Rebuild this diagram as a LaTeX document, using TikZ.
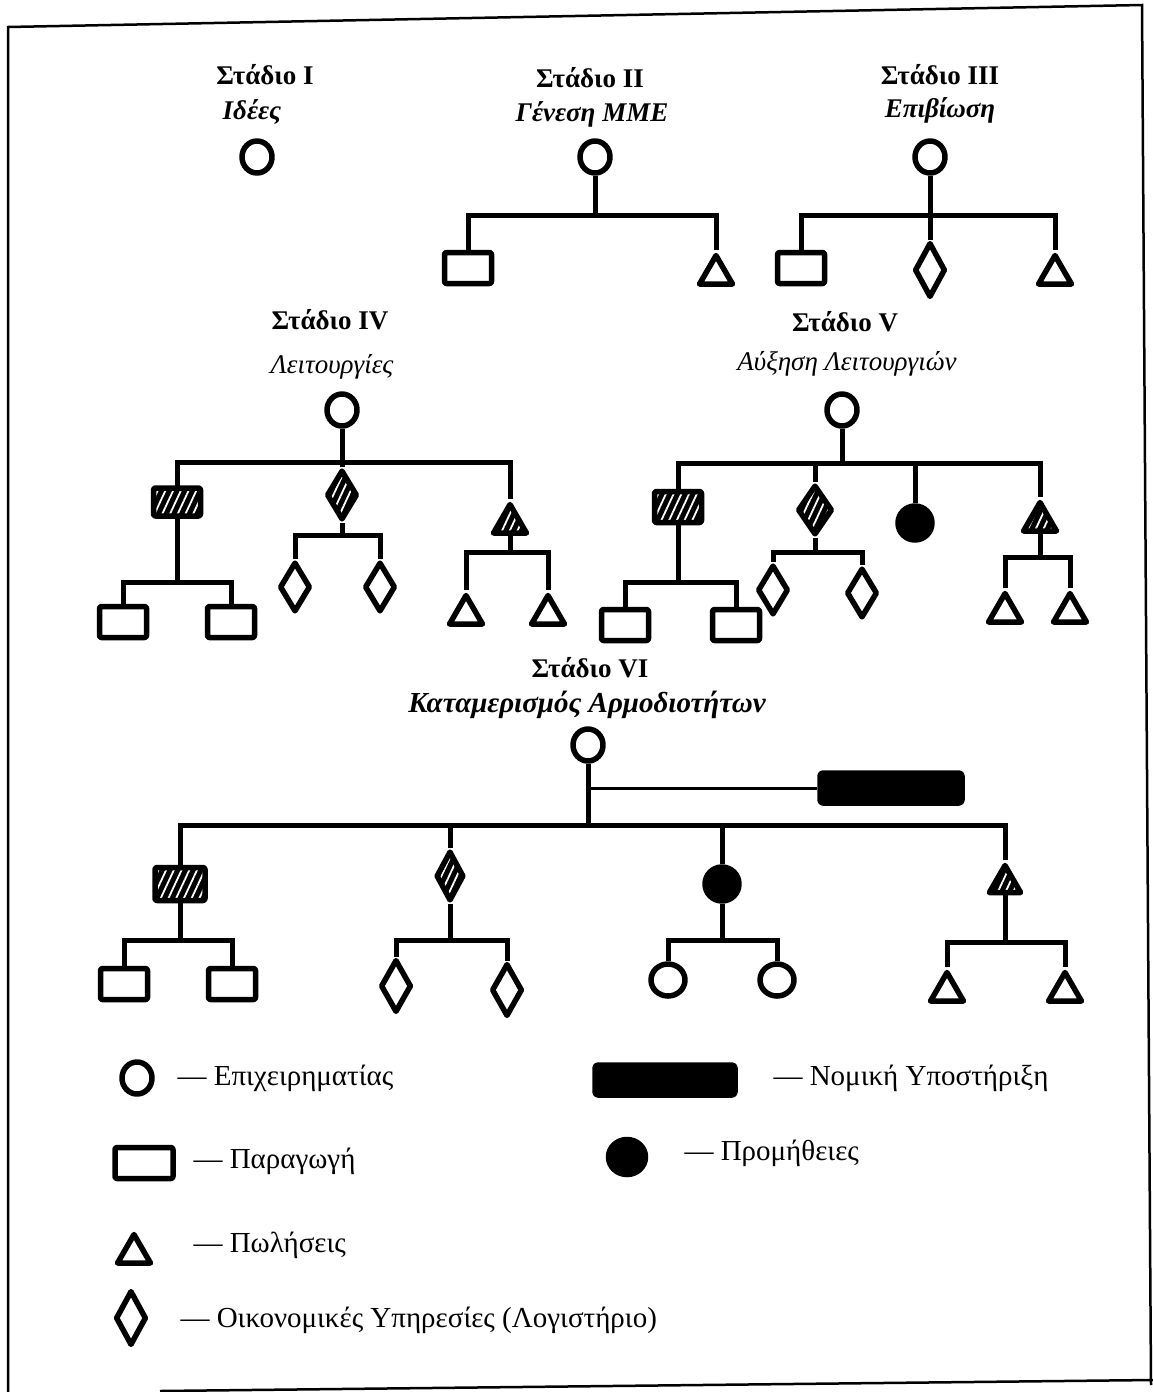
\documentclass[tikz,border=0pt]{standalone}
\usepackage{fontspec}
\setmainfont{Liberation Serif}
\usetikzlibrary{shapes.geometric,patterns.meta}
\tikzset{
  wire/.style={line width=5pt},
  thin wire/.style={line width=3pt},
  frame/.style={line width=2.5pt},
  shp/.style={draw,line width=5.5pt,line join=round,inner sep=0pt},
  boss/.style={shp,ellipse,minimum width=30pt,minimum height=32pt},
  prod/.style={shp,rectangle,rounded corners=2pt,minimum width=47pt,minimum height=31pt},
  fin/.style={shp,diamond,minimum width=31pt,minimum height=50pt},
  sales/.style={shp,regular polygon,regular polygon sides=3,minimum size=38pt,anchor=north},
  supply/.style={shp,ellipse,fill=black,minimum width=34pt,minimum height=34pt},
  legal/.style={shp,rectangle,fill=black,rounded corners=3pt,minimum width=142pt,minimum height=30pt},
  hatch/.style={preaction={fill=black},pattern={Lines[angle=65,distance=7pt,line width=1.8pt]},pattern color=white},
  hd/.style={font=\fontsize{27}{30}\selectfont\bfseries},
  sub/.style={font=\fontsize{27}{30}\selectfont\bfseries\itshape},
  subl/.style={font=\fontsize{27}{30}\selectfont\itshape},
  key/.style={font=\fontsize{29}{32}\selectfont,anchor=west},
}
\begin{document}
\begin{tikzpicture}[x=1pt,y=-1pt]
  \useasboundingbox (0,0) rectangle (1153,1392);
  % frame
  \draw[frame] (8,1392) -- (8,27) -- (1142,5) -- (1151,1385);
  \draw[frame] (160,1391) -- (1153,1380);

  % Stage I
  \node[hd] (t1) at (265,75) {Στάδιο I};
  \node[sub] (n1) at (252,112) {Ιδέες};
  \node[boss] (e1) at (257,157) {};

  % Stage II
  \node[hd] (t2) at (590,78) {Στάδιο II};
  \node[sub] (n2) at (592,114) {Γένεση ΜΜΕ};
  \node[boss] (e2) at (595,157) {};
  \node[prod] (p2) at (468,268) {};
  \node[sales] (s2) at (716,250) {};
  \coordinate (j2) at (595,215);
  \draw[wire] (e2) -- (j2);
  \draw[wire] (p2.north) |- (j2) -| (s2.north);

  % Stage III
  \node[hd] (t3) at (940,75) {Στάδιο III};
  \node[sub] (n3) at (940,110) {Επιβίωση};
  \node[boss] (e3) at (930,157) {};
  \node[prod] (p3) at (801,268) {};
  \node[fin,minimum height=55pt] (f3) at (930,270) {};
  \node[sales] (s3) at (1055,250) {};
  \coordinate (j3) at (930,215);
  \draw[wire] (e3) -- (f3.north);
  \draw[wire] (p3.north) |- (j3) -| (s3.north);

  % Stage IV
  \node[hd] (t4) at (330,320) {Στάδιο IV};
  \node[subl] (n4) at (332,367) {Λειτουργίες};
  \node[boss] (e4) at (342,410) {};
  \node[prod,hatch,minimum height=28pt] (ph4) at (177,502) {};
  \node[fin,hatch] (fh4) at (342,495) {};
  \node[sales,hatch] (sh4) at (510,499) {};
  \node[prod] (p4a) at (123,622) {};
  \node[prod] (p4b) at (231,622) {};
  \node[fin] (f4a) at (295,587) {};
  \node[fin] (f4b) at (380,587) {};
  \node[sales] (s4a) at (466,590) {};
  \node[sales] (s4b) at (548,590) {};
  \coordinate (j4) at (342,462);
  \coordinate (k4p) at (177,582);
  \coordinate (k4f) at (342,535);
  \coordinate (k4s) at (510,552);
  \draw[wire] (e4) -- (fh4.north);
  \draw[wire] (ph4.north) |- (j4) -| (sh4.north);
  \draw[wire] (ph4) -- (k4p); \draw[wire] (p4a.north) |- (k4p) -| (p4b.north);
  \draw[wire] (fh4) -- (k4f); \draw[wire] (f4a.north) |- (k4f) -| (f4b.north);
  \draw[wire] (sh4) -- (k4s); \draw[wire] (s4a.north) |- (k4s) -| (s4b.north);

  % Stage V
  \node[hd] (t5) at (845,322) {Στάδιο V};
  \node[subl] (n5) at (847,364) {Αύξηση Λειτουργιών};
  \node[boss] (e5) at (842,410) {};
  \node[prod,hatch] (ph5) at (678,507) {};
  \node[fin,hatch,minimum width=35pt] (fh5) at (815,510) {};
  \node[supply] (sup5) at (915,523) {};
  \node[sales,hatch] (sh5) at (1040,497) {};
  \node[prod] (p5a) at (625,625) {};
  \node[prod] (p5b) at (736,625) {};
  \node[fin] (f5a) at (773,590) {};
  \node[fin] (f5b) at (862,593) {};
  \node[sales] (s5a) at (1005,588) {};
  \node[sales] (s5b) at (1070,588) {};
  \coordinate (j5) at (842,463);
  \coordinate (k5p) at (678,582);
  \coordinate (k5f) at (815,552);
  \coordinate (k5s) at (1040,557);
  \draw[wire] (e5) -- (j5);
  \draw[wire] (ph5.north) |- (j5) -| (sh5.north);
  \draw[wire] (fh5.north) -- (fh5.north |- j5);
  \draw[wire] (sup5.north) -- (sup5.north |- j5);
  \draw[wire] (ph5) -- (k5p); \draw[wire] (p5a.north) |- (k5p) -| (p5b.north);
  \draw[wire] (fh5) -- (k5f); \draw[wire] (f5a.north) |- (k5f) -| (f5b.north);
  \draw[wire] (sh5) -- (k5s); \draw[wire] (s5a.north) |- (k5s) -| (s5b.north);

  % Stage VI
  \node[hd] (t6) at (590,668) {Στάδιο VI};
  \node[sub,font=\fontsize{29}{32}\selectfont\bfseries\itshape] (n6) at (587,705) {Καταμερισμός Αρμοδιοτήτων};
  \node[boss] (e6) at (588,745) {};
  \node[legal] (lg6) at (891,788) {};
  \node[prod,hatch,minimum width=50pt,minimum height=33pt] (ph6) at (180,884) {};
  \node[fin,hatch,minimum width=28pt] (fh6) at (450,876) {};
  \node[supply] (sup6) at (722,884) {};
  \node[sales,hatch,minimum size=36pt] (sh6) at (1005,860) {};
  \node[prod] (p6a) at (124,984) {};
  \node[prod] (p6b) at (232,984) {};
  \node[fin,minimum height=53pt] (f6a) at (396,986) {};
  \node[fin,minimum height=53pt] (f6b) at (507,990) {};
  \node[boss,minimum width=34pt] (c6a) at (668,980) {};
  \node[boss,minimum width=34pt] (c6b) at (777,980) {};
  \node[sales] (s6a) at (947,967) {};
  \node[sales] (s6b) at (1065,967) {};
  \coordinate (l6) at (588,788);
  \coordinate (j6) at (588,825);
  \coordinate (k6p) at (180,940);
  \coordinate (k6f) at (450,940);
  \coordinate (k6c) at (722,940);
  \coordinate (k6s) at (1005,942);
  \draw[wire] (e6) -- (j6);
  \draw[thin wire] (l6) -- (lg6);
  \draw[wire] (ph6.north) |- (j6) -| (sh6.north);
  \draw[wire] (fh6.north) -- (fh6.north |- j6);
  \draw[wire] (sup6.north) -- (sup6.north |- j6);
  \draw[wire] (ph6) -- (k6p); \draw[wire] (p6a.north) |- (k6p) -| (p6b.north);
  \draw[wire] (fh6) -- (k6f); \draw[wire] (f6a.north) |- (k6f) -| (f6b.north);
  \draw[wire] (sup6) -- (k6c); \draw[wire] (c6a.north) |- (k6c) -| (c6b.north);
  \draw[wire] (sh6) -- (k6s); \draw[wire] (s6a.north) |- (k6s) -| (s6b.north);

  % legend
  \node[boss] (le) at (137,1078) {};
  \node[key] (te) at (174,1078) {— Επιχειρηματίας};
  \node[prod,minimum width=58pt] (lp) at (144,1163) {};
  \node[key] (tp) at (190,1161) {— Παραγωγή};
  \node[sales] (ls) at (134,1229) {};
  \node[key] (ts) at (190,1245) {— Πωλήσεις};
  \node[fin,minimum height=55pt] (lf) at (131,1318) {};
  \node[key] (tf) at (177,1320) {— Οικονομικές Υπηρεσίες (Λογιστήριο)};
  \node[legal,minimum width=140pt] (ll) at (665,1080) {};
  \node[key] (tl) at (770,1078) {— Νομική Υποστήριξη};
  \node[supply,minimum width=37pt,minimum height=35pt] (lsu) at (627,1157) {};
  \node[key] (tsu) at (681,1153) {— Προμήθειες};
\end{tikzpicture}
\end{document}
